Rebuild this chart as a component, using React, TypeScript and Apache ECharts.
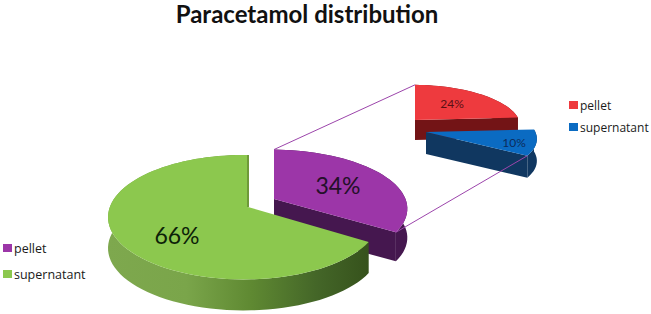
import React, { useEffect, useRef } from "react";
import * as echarts from "echarts";

const titleText = "Paracetamol distribution";
const mainCategories = ["pellet", "supernatant"];
const mainValues = [34, 66];
const subCategories = ["pellet", "supernatant"];
const subValues = [24, 10];
const legendLabels = ["pellet", "supernatant"];

const FONT = "Lato, 'Open Sans', sans-serif";
const RX = 136;
const RY = 61;
const APEX_DX = 4;
const APEX_DY = -10;

type Pt = [number, number];

// Point on the rim of a foreshortened disc, seen from the off-centre apex; relative to apex.
function rim(deg: number): Pt {
  const a = (deg * Math.PI) / 180;
  const dx = Math.sin(a);
  const dy = -Math.cos(a);
  const ox = APEX_DX;
  const oy = (APEX_DY * RX) / RY;
  const b = ox * dx + oy * dy;
  const c = ox * ox + oy * oy - RX * RX;
  const s = -b + Math.sqrt(b * b - c);
  const px = ox + s * dx;
  const py = oy + s * dy;
  return [px - ox, ((py - oy) * RY) / RX];
}

function arc(from: number, to: number, apex: Pt, kx: number, ky: number): Pt[] {
  const pts: Pt[] = [];
  const n = Math.max(8, Math.ceil((to - from) / 3));
  for (let i = 0; i <= n; i++) {
    const r = rim(from + ((to - from) * i) / n);
    pts.push([apex[0] + r[0] * kx, apex[1] + r[1] * ky]);
  }
  return pts;
}

const down = (pts: Pt[], d: number): Pt[] => pts.map((p) => [p[0], p[1] + d] as Pt);

function startOf(values: number[], i: number) {
  return values.slice(0, i).reduce((a, b) => a + b, 0) * 3.6;
}

interface Look {
  apex: Pt;
  kx: number;
  ky: number;
  depth: number;
  top: string;
  side: any;
  wall: string;
  fontSize: number;
  textColor: string;
  label: Pt;
  edge?: string;
}

const greenSide = new echarts.graphic.LinearGradient(0, 0, 1, 0, [
  { offset: 0, color: "#7ea84e" },
  { offset: 0.3, color: "#7aa54a" },
  { offset: 0.55, color: "#5f8932" },
  { offset: 0.8, color: "#446628" },
  { offset: 1, color: "#36521c" },
]);

const mainLooks: Look[] = [
  { apex: [274, 199], kx: 1.01, ky: 0.97, depth: 29, top: "#9c36a8", side: "#45174f", wall: "#45174f", fontSize: 23, textColor: "#241029", label: [338, 185] },
  { apex: [248, 207], kx: 1, ky: 1.02, depth: 31, top: "#8cc84e", side: greenSide, wall: "#3d5c20", fontSize: 23, textColor: "#0c2208", label: [177, 235], edge: "#6f9a3a" },
];
const subLooks: Look[] = [
  { apex: [415, 120], kx: 0.8, ky: 0.69, depth: 20, top: "#ee3a3e", side: "#731416", wall: "#731416", fontSize: 12, textColor: "#5a1014", label: [452, 103] },
  { apex: [426, 132], kx: 0.84, ky: 0.69, depth: 22, top: "#0b6bc2", side: "#103760", wall: "#103760", fontSize: 12, textColor: "#0c2c5c", label: [514, 142] },
];

function sliceItem(values: number[], looks: Look[]) {
  return (params: any, api: any) => {
    const i = params.dataIndex;
    const look = looks[i];
    const from = startOf(values, i);
    const to = from + api.value(0) * 3.6;
    const outline = arc(from, to, look.apex, look.kx, look.ky);
    const last = outline[outline.length - 1];
    const children: any[] = [
      {
        type: "polygon",
        shape: { points: [...outline, ...down(outline, look.depth).reverse()] },
        style: { fill: look.side },
      },
      {
        type: "polygon",
        shape: { points: [look.apex, last, [last[0], last[1] + look.depth], [look.apex[0], look.apex[1] + look.depth]] },
        style: { fill: look.wall },
      },
      {
        type: "polygon",
        shape: { points: [look.apex, ...outline] },
        style: { fill: look.top },
      },
      {
        type: "text",
        style: {
          text: api.value(0) + "%",
          x: look.label[0],
          y: look.label[1],
          align: "center",
          verticalAlign: "middle",
          fill: look.textColor,
          font: `${look.fontSize}px ${FONT}`,
        },
      },
    ];
    if (look.edge) {
      children.push({
        type: "line",
        shape: { x1: last[0], y1: last[1], x2: look.apex[0], y2: look.apex[1] },
        style: { stroke: look.edge, lineWidth: 2 },
      });
    }
    return { type: "group", children };
  };
}

function connectorItem(params: any) {
  const sum = mainValues[0] * 3.6;
  const bigA = mainLooks[0];
  const redA = subLooks[0];
  const blueA = subLooks[1];
  const from = params.dataIndex === 0
    ? arc(0, sum, bigA.apex, bigA.kx, bigA.ky)[0]
    : arc(0, sum, bigA.apex, bigA.kx, bigA.ky).slice(-1)[0];
  const to = params.dataIndex === 0
    ? arc(0, subValues[0] * 3.6, redA.apex, redA.kx, redA.ky)[0]
    : arc(subValues[0] * 3.6, sum, blueA.apex, blueA.kx, blueA.ky).slice(-1)[0];
  return {
    type: "line",
    shape: { x1: from[0], y1: from[1], x2: to[0], y2: to[1] },
    style: { stroke: "#9c45ab", lineWidth: 1 },
  };
}

function legend(x: number, ys: number[], colors: string[], textGap: number, size: number) {
  return legendLabels.flatMap((name, i) => [
    { type: "rect", shape: { x, y: ys[i] - 4, width: 9, height: 8 }, style: { fill: colors[i] } },
    {
      type: "text",
      style: {
        text: name,
        x: x + textGap,
        y: ys[i],
        verticalAlign: "middle",
        fill: "#1a1a1a",
        font: `${size}px 'Open Sans', sans-serif`,
      },
    },
  ]);
}

export default function App() {
  const ref = useRef<HTMLDivElement>(null);
  useEffect(() => {
    document.body.style.margin = "0";
    const chart = echarts.init(ref.current!, undefined, { renderer: "svg" });
    chart.setOption({
      animation: false,
      backgroundColor: "#ffffff",
      title: {
        text: titleText,
        left: 307,
        top: 2,
        padding: 0,
        textAlign: "center",
        textStyle: { fontFamily: FONT, fontWeight: "bold", fontSize: 24, lineHeight: 23, color: "#111111" },
      },
      series: [
        {
          type: "custom",
          name: "main",
          coordinateSystem: "none",
          silent: true,
          data: mainValues.map((value, i) => ({ name: mainCategories[i], value })),
          renderItem: sliceItem(mainValues, mainLooks),
        },
        {
          type: "custom",
          name: "sub",
          coordinateSystem: "none",
          silent: true,
          data: subValues.map((value, i) => ({ name: subCategories[i], value })),
          renderItem: sliceItem(subValues, subLooks),
        },
        {
          type: "custom",
          name: "connectors",
          coordinateSystem: "none",
          silent: true,
          z: 5,
          data: [0, 1],
          renderItem: connectorItem,
        },
      ],
      graphic: [
        ...legend(3, [248, 274], ["#9c36a8", "#8cc84e"], 11, 12.5),
        ...legend(569, [105, 127], ["#ee3a3e", "#0b6bc2"], 11, 12),
      ],
    });
    return () => chart.dispose();
  }, []);
  return <div ref={ref} style={{ width: 651, height: 314 }} />;
}
